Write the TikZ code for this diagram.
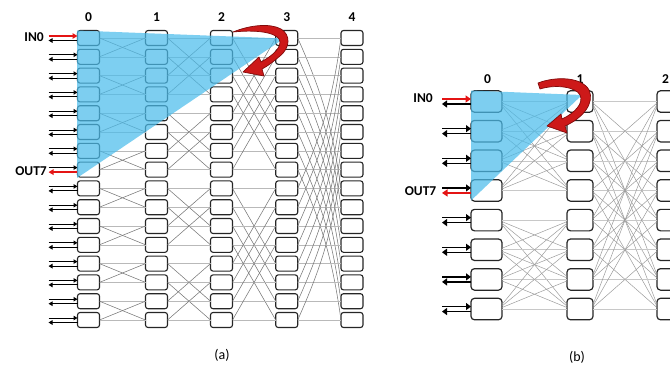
\documentclass[tikz,border=0pt]{standalone}
\usepackage{fontspec}
\setmainfont{Carlito}
\usetikzlibrary{arrows.meta}
\definecolor{netblue}{RGB}{75,188,235}
\definecolor{arrowred}{RGB}{228,20,20}
\definecolor{curlred}{RGB}{205,25,25}
\definecolor{darkred}{RGB}{130,10,10}
\definecolor{wire}{RGB}{120,120,120}
\definecolor{wirelight}{RGB}{185,185,185}
\definecolor{wireb}{RGB}{155,155,155}
\definecolor{wirelightb}{RGB}{200,200,200}
\begin{document}
\begin{tikzpicture}[x=1pt,y=-1pt,
  sw/.style={draw=black!85, line width=1.1pt, rounded corners=2.5pt, fill=white,
    minimum width=22pt, minimum height=15pt, inner sep=0pt, outer sep=0pt},
  swb/.style={sw, line width=1.2pt, rounded corners=3.5pt, minimum height=21.5pt},
  link/.style={draw=wire, line width=0.55pt},
  straight/.style={draw=wirelight, line width=0.6pt},
  linkb/.style={draw=wireb, line width=0.5pt},
  straightb/.style={draw=wirelightb, line width=0.6pt},
  port/.style={draw=black, line width=1pt, -{Triangle[length=4pt,width=4.5pt]}},
  portb/.style={draw=black, line width=1.5pt, -{Triangle[length=5pt,width=7pt]}},
  hot/.style={draw=arrowred, line width=1.8pt, -{Triangle[length=5pt,width=5.5pt]}},
  hotb/.style={draw=arrowred, line width=2pt, -{Triangle[length=5.5pt,width=7pt]}},
  collabel/.style={font=\fontsize{13.5}{15}\selectfont\bfseries, inner sep=0pt},
  iolabel/.style={font=\fontsize{13.5}{15}\selectfont\bfseries, anchor=east, inner sep=0pt},
  caption/.style={font=\fontsize{14}{16}\selectfont, inner sep=0pt},
  fan/.style={fill=netblue, fill opacity=0.72},
  turn/.style={fill=curlred, draw=darkred, line width=0.7pt, line join=round}
]
\useasboundingbox (0,0) rectangle (670,370);
\clip (0,0) rectangle (670,370);

% ---------- (a) 16x5 butterfly ----------
\foreach \k/\x in {0/88.5,1/156.5,2/221.5,3/286.7,4/352}{
  \node[collabel] (ha\k) at (\x,17.5) {\k};
  \foreach \i in {0,...,15}
    \node[sw] (a\k-\i) at (\x,{38+18.8*\i}) {};
}

% stages with partner distance 1, 2, 4
\foreach \k/\d in {0/1,1/2,2/4}{
  \pgfmathtruncatemacro\kn{\k+1}
  \foreach \i in {0,...,15}{
    \pgfmathtruncatemacro\j{(mod(floor(\i/\d),2)==0) ? (\i+\d) : (\i-\d)}
    \draw[straight] (a\k-\i.east) -- (a\kn-\i.west);
    \draw[link] (a\k-\i.east) -- (a\kn-\j.west);
  }
}
% last stage, partner distance 8, drawn as curves
\foreach \i in {0,...,15}{
  \pgfmathtruncatemacro\j{(\i<8) ? (\i+8) : (\i-8)}
  \pgfmathsetmacro\bnd{(\i<8) ? 8 : -8}
  \draw[straight] (a3-\i.east) -- (a4-\i.west);
  \draw[link] (a3-\i.east) to[bend left=\bnd] (a4-\j.west);
}

% injection / ejection ports
\foreach \i in {0,...,15}{
  \coordinate (pa-in\i) at ([shift={(-29,-2)}]a0-\i.west);
  \coordinate (pa-out\i) at ([shift={(-29,2.5)}]a0-\i.west);
}
\foreach \i in {1,...,15}
  \draw[port] (pa-in\i) -- ([yshift=2pt]a0-\i.west);
\foreach \i in {0,...,6,8,9,...,15}
  \draw[port] ([yshift=-2.5pt]a0-\i.west) -- (pa-out\i);
\draw[hot] (pa-in0) -- ([yshift=2pt]a0-0.west);
\draw[hot] ([yshift=-2.5pt]a0-7.west) -- (pa-out7);
\node[iolabel] (lina) at (44,37) {IN0};
\node[iolabel] (louta) at (47,171) {OUT7};

% reachable region and turn-around
\fill[fan] (77,30.5) -- (284,38.5) -- (77,178) -- cycle;
\filldraw[turn] (233,32) .. controls (250,25) and (270,23) .. (281,29)
  .. controls (291,35) and (290,48) .. (280,56)
  .. controls (274,61) and (268,66) .. (262,69)
  -- (264,76) -- (243,72) -- (259,57) -- (261,62)
  .. controls (270,57) and (280,50) .. (280,42)
  .. controls (280,34) and (262,29) .. (233,32) -- cycle;
\node[caption] (capa) at (222,355) {(a)};

% ---------- (b) radix-4 network ----------
\foreach \k/\x/\w in {0/486.5/31,1/580/26,2/670/26}{
  \foreach \i in {0,...,7}
    \node[swb, minimum width=\w pt] (b\k-\i) at (\x,{101.5+29.65*\i}) {};
}
\node[collabel] (hb0) at (487.5,79) {0};
\node[collabel] (hb1) at (580,79) {1};
\node[collabel] (hb2) at (665.5,79) {2};
% first stage: groups of four neighbouring rows
\foreach \i in {0,...,7}{
  \foreach \m in {0,...,3}{
    \pgfmathtruncatemacro\j{4*floor(\i/4)+\m}
    \pgfmathsetmacro\srcoff{-(\m-mod(\i,4))*1.5}
    \pgfmathsetmacro\tgtoff{(\m-mod(\i,4))*1.5}
    \ifnum\j=\i
      \draw[straightb] (b0-\i.east) -- (b1-\j.west);
    \else
      \draw[linkb] ([yshift=\srcoff pt]b0-\i.east) -- ([yshift=\tgtoff pt]b1-\j.west);
    \fi
  }
}
% second stage: groups of rows with equal parity
\foreach \i in {0,...,7}{
  \foreach \m in {0,...,3}{
    \pgfmathtruncatemacro\j{2*\m+mod(\i,2)}
    \pgfmathsetmacro\srcoff{-(\m-floor(\i/2))*1.5}
    \pgfmathsetmacro\tgtoff{(\m-floor(\i/2))*1.5}
    \ifnum\j=\i
      \draw[straightb] (b1-\i.east) -- (b2-\j.west);
    \else
      \draw[linkb] ([yshift=\srcoff pt]b1-\i.east) -- ([yshift=\tgtoff pt]b2-\j.west);
    \fi
  }
}

% ports
\foreach \i in {0,...,7}{
  \coordinate (pb-in\i) at ([shift={(-29,-2.5)}]b0-\i.west);
  \coordinate (pb-out\i) at ([shift={(-29,2.5)}]b0-\i.west);
}
\foreach \i in {1,...,7}
  \draw[portb] (pb-in\i) -- ([yshift=2.5pt]b0-\i.west);
\foreach \i in {0,1,2,4,5,6,7}
  \draw[portb] ([yshift=-2.5pt]b0-\i.west) -- (pb-out\i);
\draw[hotb] (pb-in0) -- ([yshift=2.5pt]b0-0.west);
\draw[hotb] ([yshift=-2.5pt]b0-3.west) -- (pb-out3);
\node[iolabel] (linb) at (433,98) {IN0};
\node[iolabel] (loutb) at (436.5,191.5) {OUT7};

\fill[fan] (471,90.5) -- (582,95) -- (471,200.5) -- cycle;
\filldraw[turn] (538,83) .. controls (556,76) and (582,77) .. (589,90)
  .. controls (595,103) and (583,118) .. (565,126)
  -- (567,133) -- (547,126) -- (561,114) -- (562,119)
  .. controls (575,113) and (584,103) .. (580,95)
  .. controls (576,87) and (556,84) .. (540,89) -- cycle;
\node[caption] (capb) at (577,357) {(b)};
\end{tikzpicture}
\end{document}
